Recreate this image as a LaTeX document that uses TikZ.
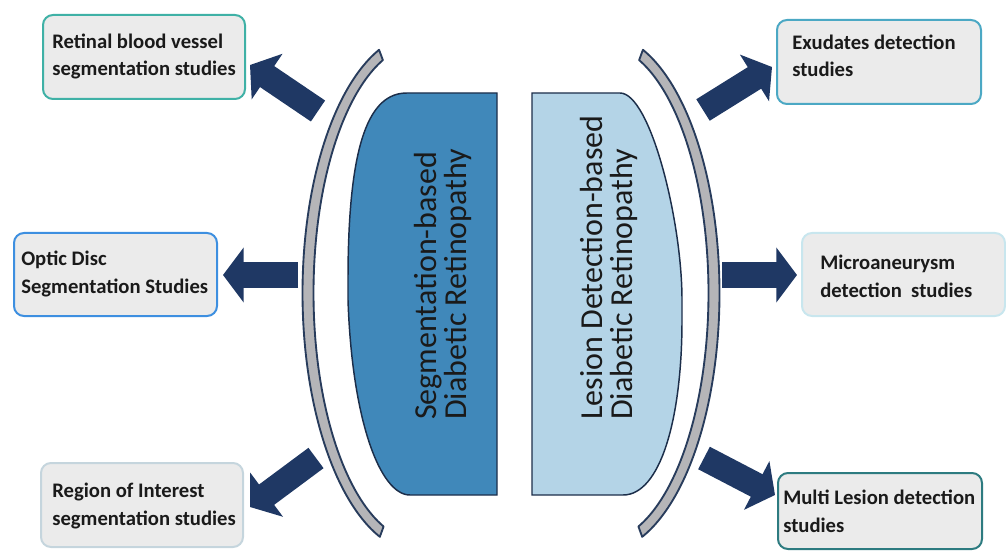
\documentclass[tikz,border=0pt]{standalone}
\usepackage{fontspec}
\setmainfont{Carlito}
\usetikzlibrary{arrows.meta}
\definecolor{navy}{HTML}{1F3864}
\definecolor{edge}{HTML}{1C2E4A}
\definecolor{segblue}{HTML}{4088BA}
\definecolor{lesblue}{HTML}{B4D4E7}
\definecolor{brfill}{HTML}{B5B5B8}
\definecolor{bredge}{HTML}{283C5C}
\definecolor{boxfill}{HTML}{EBEBEB}
\definecolor{txt}{HTML}{1A1A1A}
\definecolor{cA}{HTML}{3FB1A6}
\definecolor{cB}{HTML}{3D8FE0}
\definecolor{cC}{HTML}{C5D5DD}
\definecolor{cD}{HTML}{4BA8C4}
\definecolor{cE}{HTML}{C8E6EE}
\definecolor{cF}{HTML}{2D7B80}
\begin{document}
\begin{tikzpicture}[x=0.75pt,y=-0.75pt,
  box/.style={draw, fill=boxfill, line width=1.5pt, rounded corners=7.5pt, inner sep=0pt},
  btext/.style={anchor=base west, inner sep=0pt, align=left, text=txt,
    font=\bfseries\fontsize{15.5}{20.5}\selectfont},
  rtext/.style={rotate=90, anchor=base west, inner sep=0pt, align=left, text=txt,
    font=\fontsize{24}{22.5}\selectfont},
  bigarrow/.style={draw=navy, line width=19pt, -{Triangle[width=40.5pt,length=15.5pt]}},
  bracket/.style={fill=brfill, draw=bredge, line width=1.4pt, line join=round},
  panel/.style={draw=edge, line width=1.1pt}]
\useasboundingbox (0,0) rectangle (1006,552);

% curved brackets around the two central panels
\path[bracket]
  plot[domain=110.4:250, samples=60, smooth] ({420+117.5*cos(\x)},{293-259.5*sin(\x)})
  -- plot[domain=250:110.4, samples=60, smooth] ({420+106.5*cos(\x)},{293-248.5*sin(\x)}) -- cycle;
\path[bracket]
  plot[domain=69.6:-70, samples=60, smooth] ({602+117.5*cos(\x)},{293-259.5*sin(\x)})
  -- plot[domain=-70:69.6, samples=60, smooth] ({602+106.5*cos(\x)},{293-248.5*sin(\x)}) -- cycle;

% central panels
\draw[panel, fill=segblue] (497,93) -- (407,93) .. controls (370,93) and (348,140) .. (348,280)
  -- (348,300) .. controls (352,420) and (380,495) .. (410,495) -- (497,495) -- cycle;
\draw[panel, fill=lesblue] (532,93) -- (620,93) .. controls (650,93) and (682,220) .. (682,300)
  -- (682,320) .. controls (682,420) and (660,495) .. (623,495) -- (532,495) -- cycle;

% panel titles (anchored on the baseline of the last line)
\node[rtext] (seg) at (466,420) {Segmentation-based\\Diabetic Retinopathy};
\node[rtext] (les) at (632,420) {Lesion Detection-based\\Diabetic Retinopathy};

% study boxes
\node[box, draw=cA, minimum width=151.5pt, minimum height=63pt] (b1) at (144,57) {};
\node[box, draw=cB, minimum width=152.25pt, minimum height=62.25pt] (b2) at (115.5,274.5) {};
\node[box, draw=cC, minimum width=151.5pt, minimum height=63pt] (b3) at (142,505) {};
\node[box, draw=cD, minimum width=153pt, minimum height=63pt] (b4) at (879,62) {};
\node[box, draw=cE, minimum width=152.25pt, minimum height=62.25pt] (b5) at (903.5,274.5) {};
\node[box, draw=cF, minimum width=153pt, minimum height=57pt] (b6) at (880,511) {};

\node[btext] (t1) at (52,76) {Retinal blood vessel\\segmentation studies};
\node[btext] (t2) at (21,293) {Optic Disc\\Segmentation Studies};
\node[btext] (t3) at (52,525) {Region of Interest\\segmentation studies};
\node[btext] (t4) at (792,77) {Exudates detection\\studies};
\node[btext] (t5) at (820,297) {Microaneurysm\\detection~~studies};
\node[btext] (t6) at (783,532) {Multi Lesion detection\\studies};

% arrow ends
\coordinate (a1s) at (318,111); \coordinate (a1e) at (250,65);
\coordinate (a2s) at (298,275); \coordinate (a2e) at (223,275);
\coordinate (a3s) at (316,458); \coordinate (a3e) at (250,507);
\coordinate (a4s) at (703,110); \coordinate (a4e) at (772,67);
\coordinate (a5s) at (722,275); \coordinate (a5e) at (797,275);
\coordinate (a6s) at (704,458); \coordinate (a6e) at (775,495);

\draw[bigarrow] (a1s) -- (a1e);
\draw[bigarrow] (a2s) -- (a2e);
\draw[bigarrow] (a3s) -- (a3e);
\draw[bigarrow] (a4s) -- (a4e);
\draw[bigarrow] (a5s) -- (a5e);
\draw[bigarrow] (a6s) -- (a6e);
\end{tikzpicture}
\end{document}
